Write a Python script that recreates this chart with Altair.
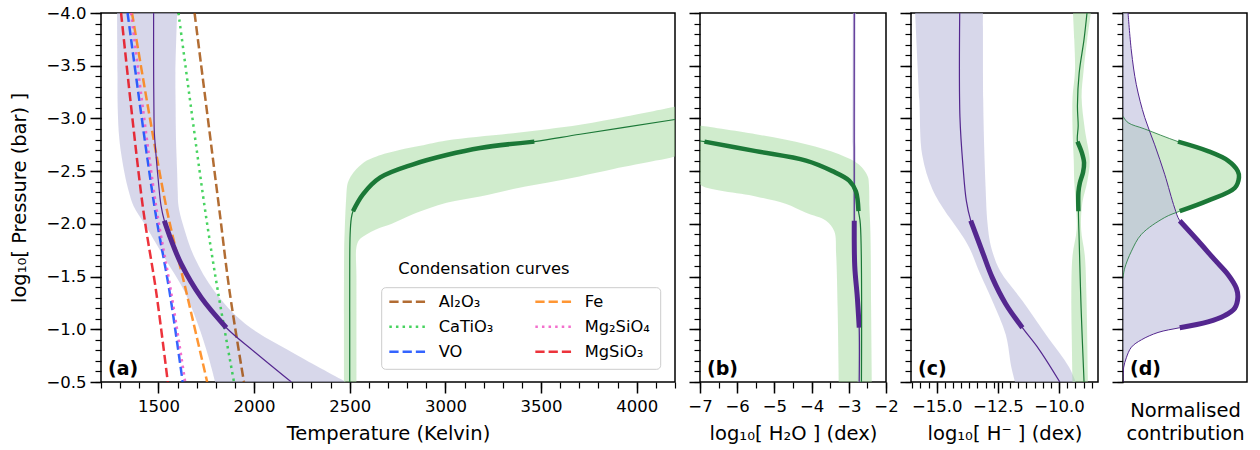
import altair as alt
import pandas as pd

FONT = "DejaVu Sans"
PURPLE = "#54278f"
GREEN = "#1b7837"
PURPLE_FILL, PURPLE_OP = "#bcbddc", 0.6
GREEN_FILL, GREEN_OP = "#a1d99b", 0.5

P_THICK = (-2.03, -1.015)
G_THICK = (-2.78, -2.12)

# ---------------- panel (a): temperature ----------------
a_p_logp = [-4.0, -3.5, -3.0, -2.86, -2.6, -2.4, -2.17, -2.03, -1.85, -1.62, -1.3, -1.015, -0.79, -0.5]
a_p_T = [1475, 1475, 1477, 1479, 1490, 1500, 1514, 1531, 1566, 1619, 1724, 1855, 2000, 2195]
a_pb_logp = [-4.0, -3.43, -3.12, -2.80, -2.49, -2.31, -2.17, -2.0, -1.68, -1.36, -1.05, -0.75, -0.5]
a_pb_lo = [1284, 1286, 1287, 1296, 1322, 1345, 1370, 1427, 1531, 1636, 1706, 1760, 1797]
a_pb_hi = [1598, 1589, 1590, 1592, 1598, 1601, 1605, 1627, 1689, 1793, 1955, 2230, 2483]

a_g_logp = [-0.5, -1.0, -1.5, -1.9, -2.05, -2.12, -2.28, -2.44, -2.565, -2.653, -2.72, -2.78, -2.85, -2.99]
a_g_T = [2500, 2500, 2500, 2502, 2508, 2517, 2569, 2660, 2832, 3006, 3181, 3465, 3704, 4200]
a_gb_logp = [-0.5, -1.5, -1.78, -1.85, -1.9, -1.95, -2.0, -2.09, -2.2, -2.26, -2.34, -2.39, -2.45,
             -2.52, -2.6, -2.64, -2.7, -2.74, -2.79, -2.86, -2.94, -3.02, -3.11]
a_gb_lo = [2470, 2470, 2471, 2472, 2473, 2474, 2475, 2477, 2480, 2482, 2485, 2490, 2505,
           2535, 2589, 2640, 2760, 2869, 3006, 3355, 3704, 3950, 4200]
a_gb_hi = [2535, 2535, 2535, 2550, 2587, 2640, 2720, 2830, 3006, 3181, 3380, 3530, 3700,
           3879, 4100, 4200, 4300, 4400, 4500, 4600, 4700, 4800, 4900]

cond_logp = [-4.0, -2.17, -1.36, -0.5]
cond_names = ["Al\u2082O\u2083", "CaTiO\u2083", "VO", "Fe", "Mg\u2082SiO\u2084", "MgSiO\u2083"]
cond_T = {
    "Al\u2082O\u2083": [1689, 1816, 1872, 1947],
    "CaTiO\u2083": [1605, 1741, 1811, 1895],
    "VO": [1339, 1479, 1558, 1627],
    "Fe": [1362, 1540, 1645, 1755],
    "Mg\u2082SiO\u2084": [1357, 1488, 1566, 1640],
    "MgSiO\u2083": [1305, 1418, 1488, 1549],
}
cond_colors = ["#9f4800", "#1ac938", "#023eff", "#ff7c00", "#f14cc1", "#e8000b"]
DASHED = [9.25, 4]
DOTTED = [2.5, 4.1]
cond_dash = [DASHED, DOTTED, DASHED, DASHED, DOTTED, DASHED]

# ---------------- panel (b): H2O ----------------
b_p_logp = [-4.0, -2.03, -1.6, -1.3, -1.015, -0.5]
b_p_x = [-2.853, -2.853, -2.84, -2.77, -2.72, -2.72]
b_pb_lo = [-2.89, -2.89, -2.88, -2.81, -2.76, -2.76]
b_pb_hi = [-2.81, -2.81, -2.80, -2.73, -2.68, -2.68]

b_g_logp = [-2.786, -2.78, -2.69, -2.6, -2.5, -2.41, -2.31, -2.12, -2.0, -0.5]
b_g_x = [-7.0, -6.88, -5.5, -4.15, -3.44, -2.99, -2.81, -2.74, -2.69, -2.66]
b_gb_logp = [-2.93, -2.85, -2.755, -2.66, -2.56, -2.45, -2.375, -2.26, -2.19, -2.105, -2.03, -1.93, -1.71, -1.2, -0.5]
b_gb_lo = [-7.0, -7.0, -7.0, -7.0, -7.0, -7.0, -7.0, -5.5, -4.7, -4.15, -3.61, -3.39, -3.34, -3.3, -3.27]
b_gb_hi = [-6.97, -5.5, -4.15, -3.26, -2.72, -2.49, -2.46, -2.45, -2.45, -2.44, -2.43, -2.42, -2.41, -2.40, -2.38]

# ---------------- panel (c): H- ----------------
c_p_logp = [-4.0, -3.01, -2.53, -2.22, -2.03, -1.74, -1.49, -1.24, -1.015, -0.81, -0.5]
c_p_x = [-14.06, -14.05, -13.92, -13.79, -13.61, -13.14, -12.73, -12.18, -11.5, -10.82, -9.97]
c_pb_logp = [-4.0, -3.18, -2.65, -2.33, -2.11, -2.02, -1.86, -1.74, -1.55, -1.27, -0.95, -0.64, -0.5]
c_pb_lo = [-15.88, -15.71, -15.59, -15.18, -14.63, -14.35, -13.88, -13.6, -13.27, -12.73, -12.18, -11.95, -11.8]
c_pb_hi = [-13.11, -13.1, -13.05, -13.0, -12.96, -12.93, -12.85, -12.73, -12.4, -11.5, -10.54, -9.59, -9.32]

c_g_logp = [-4.0, -3.75, -3.43, -3.12, -2.93, -2.78, -2.675, -2.58, -2.49, -2.39, -2.3, -2.12, -1.85, -1.2, -0.5]
c_g_x = [-8.86, -8.98, -9.18, -9.25, -9.22, -9.25, -9.07, -8.98, -9.02, -9.15, -9.21, -9.21, -9.18, -9.1, -8.98]
c_gb_logp = [-4.0, -3.75, -3.45, -3.2, -2.9, -2.6, -2.4, -2.2, -1.95, -1.7, -1.3, -0.9, -0.5]
c_gb_lo = [-9.43, -9.38, -9.35, -9.45, -9.45, -9.40, -9.38, -9.32, -9.28, -9.45, -9.5, -9.48, -9.45]
c_gb_hi = [-8.70, -8.85, -9.0, -9.08, -8.95, -8.75, -8.85, -9.05, -9.1, -8.95, -8.88, -8.85, -8.82]

# ---------------- panel (d): contribution ----------------
d_p_logp = [-4.0, -3.64, -3.32, -3.01, -2.75, -2.47, -2.15, -2.03, -1.84, -1.66, -1.52, -1.39, -1.30,
            -1.2, -1.13, -1.07, -1.015, -0.97, -0.9, -0.83, -0.73, -0.64, -0.54, -0.5]
d_p_v = [0.044, 0.073, 0.116, 0.189, 0.276, 0.363, 0.45, 0.494, 0.653, 0.798, 0.914, 0.987, 1.0,
         0.973, 0.885, 0.74, 0.494, 0.305, 0.16, 0.073, 0.029, 0.006, 0.0, 0.0]
d_g_logp = [-3.02, -2.96, -2.9, -2.78, -2.69, -2.6, -2.5, -2.44, -2.34, -2.22, -2.12, -2.06, -1.9, -1.74, -1.58, -1.49]
d_g_v = [0.0, 0.044, 0.189, 0.479, 0.74, 0.914, 1.0, 1.01, 0.973, 0.74, 0.494, 0.363, 0.16, 0.073, 0.015, 0.0]

# ---------------- axes ----------------
y_major = [-4.0, -3.5, -3.0, -2.5, -2.0, -1.5, -1.0, -0.5]
y_minor = [round(-4.0 + 0.1 * k, 2) for k in range(36)]
a_x_major = [1500, 2000, 2500, 3000, 3500, 4000]
a_x_minor = list(range(1200, 4201, 100))
b_x_major = [-7, -6, -5, -4, -3, -2]
b_x_minor = [-7 + 0.5 * k for k in range(11)]
c_x_major = [-15.0, -12.5, -10.0]
c_x_minor = [round(-16 + k / 3, 4) for k in range(23)]

W = {"a": 574, "b": 186, "c": 187, "d": 124}
H = 369
MAJ_T, MIN_T = 11, 6

Y_SCALE = alt.Scale(domain=[-4.0, -0.5], reverse=True, nice=False, zero=False)


def line_df(logp, vals):
    return pd.DataFrame({"logp": logp, "v": vals, "i": list(range(len(logp)))})


def band_df(logp, lo, hi):
    return pd.DataFrame({"logp": logp, "lo": lo, "hi": hi})


def thick(df, rng):
    return df[(df.logp >= rng[0] - 1e-9) & (df.logp <= rng[1] + 1e-9)]


def line(df, xs, color, width, opacity=1.0):
    return alt.Chart(df).mark_line(color=color, strokeWidth=width, opacity=opacity, interpolate="catmull-rom",
                                   clip=True, strokeCap="butt").encode(
        x=alt.X("v:Q", scale=xs, axis=None),
        y=alt.Y("logp:Q", scale=Y_SCALE, axis=None),
        order="i:Q")


def band(df, xs, color, op):
    return alt.Chart(df).mark_area(orient="horizontal", color=color, opacity=op, interpolate="catmull-rom",
                                   clip=True).encode(
        x=alt.X("lo:Q", scale=xs, axis=None), x2="hi:Q",
        y=alt.Y("logp:Q", scale=Y_SCALE, axis=None))


def yaxis(labels, minor=False):
    if minor:
        return alt.Axis(values=y_minor, labels=False, tickSize=MIN_T, tickWidth=1.2, title=None, orient="left")
    if labels:
        return alt.Axis(values=y_major, format=".1f", tickSize=MAJ_T, tickWidth=1.5, labelPadding=4,
                        title="log\u2081\u2080[ Pressure (bar) ]", titlePadding=16, orient="left")
    return alt.Axis(values=y_major, labels=False, tickSize=MAJ_T, tickWidth=1.5, title=None, orient="left")


def axis_layers(df, xs, xmaj, xmin, ylabels):
    ma = alt.Chart(df).mark_point(opacity=0, size=1).encode(
        x=alt.X("v:Q", scale=xs, axis=xmaj), y=alt.Y("logp:Q", scale=Y_SCALE, axis=yaxis(ylabels)))
    mi = alt.Chart(df).mark_point(opacity=0, size=1).encode(
        x=alt.X("v:Q", scale=xs, axis=xmin), y=alt.Y("logp:Q", scale=Y_SCALE, axis=yaxis(False, True)))
    return [ma, mi]


def panel_label(txt):
    return alt.Chart(pd.DataFrame({"t": [txt]})).mark_text(
        align="left", baseline="middle", fontSize=19, fontWeight="bold", font=FONT, color="black").encode(
        text="t:N", x=alt.value(7), y=alt.value(356))


def xmajor(values, fmt, title):
    return alt.Axis(values=values, format=fmt, tickSize=MAJ_T, tickWidth=1.5, labelPadding=5,
                    title=title, titlePadding=10, orient="bottom")


def xminor(values):
    return alt.Axis(values=values, labels=False, tickSize=MIN_T, tickWidth=1.2, title=None, orient="bottom")


# ---------- panel (a) ----------
xa = alt.Scale(domain=[1200, 4200], nice=False, zero=False)
a_p = line_df(a_p_logp, a_p_T)
a_g = line_df(a_g_logp, a_g_T)
rows = []
for name in cond_names:
    for k, (lp, t) in enumerate(zip(cond_logp, cond_T[name])):
        rows.append({"species": name, "logp": lp, "v": t, "i": k})
cond_df = pd.DataFrame(rows)
leg = alt.Legend(title=None, orient="none", legendX=286.7, legendY=276.2, columns=2, symbolType="stroke",
                 symbolSize=1275, symbolStrokeWidth=2.5, symbolOpacity=0.8, labelFontSize=16.3, labelFont=FONT,
                 labelColor="black", labelOffset=12, columnPadding=40, rowPadding=0, clipHeight=25,
                 padding=0, labelLimit=300)
cond = alt.Chart(cond_df).mark_line(strokeWidth=2.5, opacity=0.8, interpolate="catmull-rom", clip=True).encode(
    x=alt.X("v:Q", scale=xa, axis=None),
    y=alt.Y("logp:Q", scale=Y_SCALE, axis=None),
    color=alt.Color("species:N", scale=alt.Scale(domain=cond_names, range=cond_colors), legend=leg),
    strokeDash=alt.StrokeDash("species:N", scale=alt.Scale(domain=cond_names, range=cond_dash), legend=leg),
    order="i:Q")
frame = alt.Chart(pd.DataFrame({"k": [0]})).mark_rect(
    fill="white", fillOpacity=0.8, stroke="#cccccc", strokeWidth=1, cornerRadius=4).encode(
    x=alt.value(280.7), x2=alt.value(559.7), y=alt.value(274.7), y2=alt.value(356.3))
leg_title = alt.Chart(pd.DataFrame({"t": ["Condensation curves"]})).mark_text(
    align="left", baseline="middle", fontSize=16.3, font=FONT, color="black").encode(
    text="t:N", x=alt.value(297.3), y=alt.value(256))

panel_a = alt.layer(
    *axis_layers(a_p, xa, xmajor(a_x_major, "d", "Temperature (Kelvin)"), xminor(a_x_minor), True),
    band(band_df(a_pb_logp, a_pb_lo, a_pb_hi), xa, PURPLE_FILL, PURPLE_OP),
    band(band_df(a_gb_logp, a_gb_lo, a_gb_hi), xa, GREEN_FILL, GREEN_OP),
    frame, leg_title, cond,
    line(a_p, xa, PURPLE, 1.2), line(thick(a_p, P_THICK), xa, PURPLE, 5),
    line(a_g, xa, GREEN, 1.2), line(thick(a_g, G_THICK), xa, GREEN, 4.5),
    panel_label("(a)"),
).resolve_axis(x="independent", y="independent").properties(width=W["a"], height=H)

# ---------- panel (b) ----------
xb = alt.Scale(domain=[-7, -2], nice=False, zero=False)
b_p = line_df(b_p_logp, b_p_x)
b_g = line_df(b_g_logp, b_g_x)
panel_b = alt.layer(
    *axis_layers(b_p, xb, xmajor(b_x_major, "d", "log\u2081\u2080[ H\u2082O ] (dex)"), xminor(b_x_minor), False),
    band(band_df(b_p_logp, b_pb_lo, b_pb_hi), xb, PURPLE_FILL, PURPLE_OP),
    band(band_df(b_gb_logp, b_gb_lo, b_gb_hi), xb, GREEN_FILL, GREEN_OP),
    line(b_p, xb, PURPLE, 1.2), line(thick(b_p, P_THICK), xb, PURPLE, 5),
    line(b_g, xb, GREEN, 1.2), line(thick(b_g, G_THICK), xb, GREEN, 4.5),
    panel_label("(b)"),
).resolve_axis(x="independent", y="independent").properties(width=W["b"], height=H)

# ---------- panel (c) ----------
xc = alt.Scale(domain=[-16.05, -8.41], nice=False, zero=False)
c_p = line_df(c_p_logp, c_p_x)
c_g = line_df(c_g_logp, c_g_x)
panel_c = alt.layer(
    *axis_layers(c_p, xc, xmajor(c_x_major, ".1f", "log\u2081\u2080[ H\u207b ] (dex)"), xminor(c_x_minor), False),
    band(band_df(c_pb_logp, c_pb_lo, c_pb_hi), xc, PURPLE_FILL, PURPLE_OP),
    band(band_df(c_gb_logp, c_gb_lo, c_gb_hi), xc, GREEN_FILL, GREEN_OP),
    line(c_p, xc, PURPLE, 1.2), line(thick(c_p, P_THICK), xc, PURPLE, 5),
    line(c_g, xc, GREEN, 1.2), line(thick(c_g, G_THICK), xc, GREEN, 4.5),
    panel_label("(c)"),
).resolve_axis(x="independent", y="independent").properties(width=W["c"], height=H)

# ---------- panel (d) ----------
xd = alt.Scale(domain=[0, 1.08], nice=False, zero=False)
d_p = line_df(d_p_logp, d_p_v).assign(z=0.0)
d_g = line_df(d_g_logp, d_g_v).assign(z=0.0)


def fill(df, color, op):
    return alt.Chart(df).mark_area(orient="horizontal", color=color, opacity=op, interpolate="catmull-rom",
                                   clip=True).encode(
        x=alt.X("v:Q", scale=xd, axis=None), x2="z:Q",
        y=alt.Y("logp:Q", scale=Y_SCALE, axis=None))


d_xaxis = alt.Axis(ticks=False, labels=False, domain=False, title=["Normalised", "contribution"],
                   titlePadding=19, titleLineHeight=23, orient="bottom")
panel_d = alt.layer(
    *axis_layers(d_p, xd, d_xaxis, None, False),
    fill(d_g, GREEN_FILL, GREEN_OP), fill(d_p, PURPLE_FILL, PURPLE_OP),
    line(d_p, xd, PURPLE, 1.0), line(d_g, xd, GREEN, 1.0, 0.8),
    line(thick(d_p, P_THICK), xd, PURPLE, 5), line(thick(d_g, G_THICK), xd, GREEN, 4.5),
    panel_label("(d)"),
).resolve_axis(x="independent", y="independent").properties(width=W["d"], height=H)

chart = alt.hconcat(panel_a, panel_b, panel_c, panel_d, spacing=25).properties(
    bounds="flush", padding={"left": 9, "top": 4, "right": 5, "bottom": 2}, background="white"
).configure_view(stroke="black", strokeWidth=1.5).configure_axis(
    labelFont=FONT, titleFont=FONT, labelFontSize=16.5, titleFontSize=19.5, titleFontWeight="normal",
    labelColor="black", titleColor="black", tickColor="black", domain=False, grid=False,
    labelFlush=False, labelOverlap=False,
).configure_text(font=FONT)

chart.save("out.html", embed_options={"renderer": "svg", "actions": False})
